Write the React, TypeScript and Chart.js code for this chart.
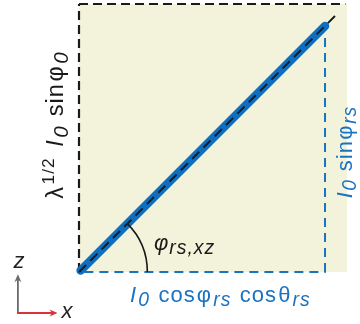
import { useEffect, useRef } from 'react';
import { Chart, registerables } from 'chart.js';
Chart.register(...registerables);

// ---- data (unit square in data space) ----
const BOX_X = [0, 1];
const BOX_Y = [0, 1];
const VECTOR_END = [0.918, 0.918];
const DIAG_END = [0.958, 0.958];
const PROJ_TOP = 0.895;
const ARC_RADIUS = 0.255;
const ARC_ANGLE_DEG = 45;
const AXIS_ORIGIN = [-0.228, -0.153];
const AXIS_Z_TIP = [-0.228, -0.008];
const AXIS_X_TIP = [-0.08, -0.153];

const X_MIN = -0.2948, X_MAX = 1.0485;
const Y_MIN = -0.194, Y_MAX = 1.0149;

const FONT = '"Liberation Sans", Arial, Helvetica, sans-serif';
const BLACK = '#1a1a1a';
const BLUE = '#1a73c2';
const BLUE_THICK = '#0e6ec0';
const YELLOW = '#f3f3dc';

type Seg = { t: string; it?: boolean; sub?: boolean; sup?: boolean };

function segFont(s: Seg, size: number) {
  let sz = size;
  if (s.sub) sz = size * 0.88;
  if (s.sup) sz = size * 0.74;
  return `${s.it ? 'italic ' : ''}${sz}px ${FONT}`;
}
function richWidth(ctx: CanvasRenderingContext2D, segs: Seg[], size: number, gap: number) {
  let w = 0;
  for (const s of segs) { ctx.font = segFont(s, size); w += ctx.measureText(s.t).width + gap; }
  return w - gap;
}
function drawRich(ctx: CanvasRenderingContext2D, segs: Seg[], x: number, y: number, size: number, color: string, gap: number) {
  ctx.fillStyle = color;
  ctx.textBaseline = 'alphabetic';
  ctx.textAlign = 'left';
  let cx = x;
  for (const s of segs) {
    ctx.font = segFont(s, size);
    const dy = s.sub ? size * 0.2 : s.sup ? -size * 0.4 : 0;
    ctx.fillText(s.t, cx, y + dy);
    cx += ctx.measureText(s.t).width + gap;
  }
}

const BOTTOM_LABEL: Seg[] = [
  { t: 'I', it: true }, { t: '0', it: true, sub: true }, { t: ' cos' }, { t: 'φ' }, { t: 'rs', it: true, sub: true },
  { t: ' cos' }, { t: 'θ' }, { t: 'rs', it: true, sub: true },
];
const RIGHT_LABEL: Seg[] = [
  { t: 'I', it: true }, { t: '0', it: true, sub: true }, { t: ' sin' }, { t: 'φ' }, { t: 'rs', it: true, sub: true },
];
const LEFT_LABEL: Seg[] = [
  { t: 'λ' }, { t: '1/2', sup: true }, { t: ' ' }, { t: 'I', it: true }, { t: '0', it: true, sub: true },
  { t: ' sin' }, { t: 'φ' }, { t: '0', it: true, sub: true },
];
const ANGLE_LABEL: Seg[] = [{ t: 'φ', it: true }, { t: 'rs,xz', it: true, sub: true }];

function arrow(ctx: CanvasRenderingContext2D, x0: number, y0: number, x1: number, y1: number, color: string) {
  const a = Math.atan2(y1 - y0, x1 - x0);
  const L = 8, W = 3.5;
  ctx.strokeStyle = color; ctx.fillStyle = color; ctx.lineWidth = 1.8;
  ctx.beginPath(); ctx.moveTo(x0, y0);
  ctx.lineTo(x1 - Math.cos(a) * L * 0.7, y1 - Math.sin(a) * L * 0.7); ctx.stroke();
  ctx.beginPath();
  ctx.moveTo(x1, y1);
  ctx.lineTo(x1 - Math.cos(a) * L + Math.sin(a) * W, y1 - Math.sin(a) * L - Math.cos(a) * W);
  ctx.lineTo(x1 - Math.cos(a) * L * 0.7, y1 - Math.sin(a) * L * 0.7);
  ctx.lineTo(x1 - Math.cos(a) * L - Math.sin(a) * W, y1 - Math.sin(a) * L + Math.cos(a) * W);
  ctx.closePath(); ctx.fill();
}

const decor = {
  id: 'decor',
  afterDatasetsDraw(chart: any) {
    const ctx: any = chart.ctx;
    const xs = chart.scales.x, ys = chart.scales.y;
    const px = (v: number) => xs.getPixelForValue(v);
    const py = (v: number) => ys.getPixelForValue(v);
    ctx.save();
    // angle arc
    const cx = px(0), cy = py(0);
    const r = px(ARC_RADIUS) - px(0);
    ctx.strokeStyle = BLACK; ctx.lineWidth = 1.6;
    ctx.beginPath();
    ctx.arc(cx, cy, r, -ARC_ANGLE_DEG * Math.PI / 180, 0);
    ctx.stroke();
    // axis indicator
    arrow(ctx, px(AXIS_ORIGIN[0]), py(AXIS_ORIGIN[1]), px(AXIS_Z_TIP[0]), py(AXIS_Z_TIP[1]), '#6b6b6b');
    arrow(ctx, px(AXIS_ORIGIN[0]) - 0.9, py(AXIS_ORIGIN[1]), px(AXIS_X_TIP[0]), py(AXIS_X_TIP[1]), '#d8323c');
    ctx.font = `italic 22px ${FONT}`;
    ctx.fillStyle = '#222';
    ctx.textAlign = 'center'; ctx.textBaseline = 'alphabetic';
    ctx.fillText('z', 19, 268);
    ctx.fillText('x', 67, 318);
    // labels
    ctx.letterSpacing = '1px';
    drawRich(ctx, ANGLE_LABEL, 154, 250, 22, BLACK, 0);
    drawRich(ctx, BOTTOM_LABEL, 130, 302, 22, BLUE, 1.2);
    // right rotated
    ctx.save();
    ctx.translate(352, 152);
    ctx.rotate(-Math.PI / 2);
    const wr = richWidth(ctx, RIGHT_LABEL, 22, 0.5);
    drawRich(ctx, RIGHT_LABEL, -wr / 2, 0, 22, BLUE, 0.5);
    ctx.restore();
    // left rotated
    ctx.save();
    ctx.translate(63, 125);
    ctx.rotate(-Math.PI / 2);
    const wl = richWidth(ctx, LEFT_LABEL, 23.5, 1.5);
    drawRich(ctx, LEFT_LABEL, -wl / 2, 0, 23.5, BLACK, 1.5);
    ctx.restore();
    ctx.restore();
  },
};

export default function App() {
  const ref = useRef<HTMLCanvasElement>(null);
  useEffect(() => {
    document.body.style.margin = '0';
    const line = (data: { x: number; y: number }[], color: string, width: number, dash: number[], order: number, extra: any = {}) => ({
      data, borderColor: color, borderWidth: width, borderDash: dash, showLine: true, pointRadius: 0, fill: false, order, ...extra,
    });
    const chart = new Chart(ref.current!, {
      type: 'scatter',
      data: {
        datasets: [
          line([{ x: BOX_X[0], y: BOX_Y[1] }, { x: BOX_X[1], y: BOX_Y[1] }], 'rgba(0,0,0,0)', 0, [], 10,
            { fill: { value: BOX_Y[0] }, backgroundColor: YELLOW }),
          line([{ x: BOX_X[0], y: BOX_Y[1] }, { x: BOX_X[1] - 0.006, y: BOX_Y[1] }], BLACK, 2.2, [9, 5], 6),
          line([{ x: BOX_X[0], y: BOX_Y[0] }, { x: BOX_X[0], y: BOX_Y[1] }], BLACK, 2.2, [9, 5], 6),
          line([{ x: 0.02, y: BOX_Y[0] }, { x: VECTOR_END[0] + 0.003, y: BOX_Y[0] }], BLUE, 2, [9, 6], 5),
          line([{ x: VECTOR_END[0], y: BOX_Y[0] }, { x: VECTOR_END[0], y: PROJ_TOP }], BLUE, 2, [9, 6], 5),
          line([{ x: 0.006, y: 0.006 }, { x: VECTOR_END[0], y: VECTOR_END[1] }], BLUE_THICK, 8.5, [], 3, { borderCapStyle: 'round' }),
          line([{ x: BOX_X[0], y: BOX_Y[0] }, { x: DIAG_END[0], y: DIAG_END[1] }], BLACK, 2, [10, 6], 1),
        ],
      },
      options: {
        responsive: false,
        animation: false,
        layout: { padding: 0 },
        plugins: { legend: { display: false }, tooltip: { enabled: false } },
        scales: {
          x: { type: 'linear', min: X_MIN, max: X_MAX, display: false },
          y: { type: 'linear', min: Y_MIN, max: Y_MAX, display: false },
        },
      },
      plugins: [decor],
    });
    return () => chart.destroy();
  }, []);
  return <canvas ref={ref} width={360} height={324} style={{ display: 'block' }} />;
}
